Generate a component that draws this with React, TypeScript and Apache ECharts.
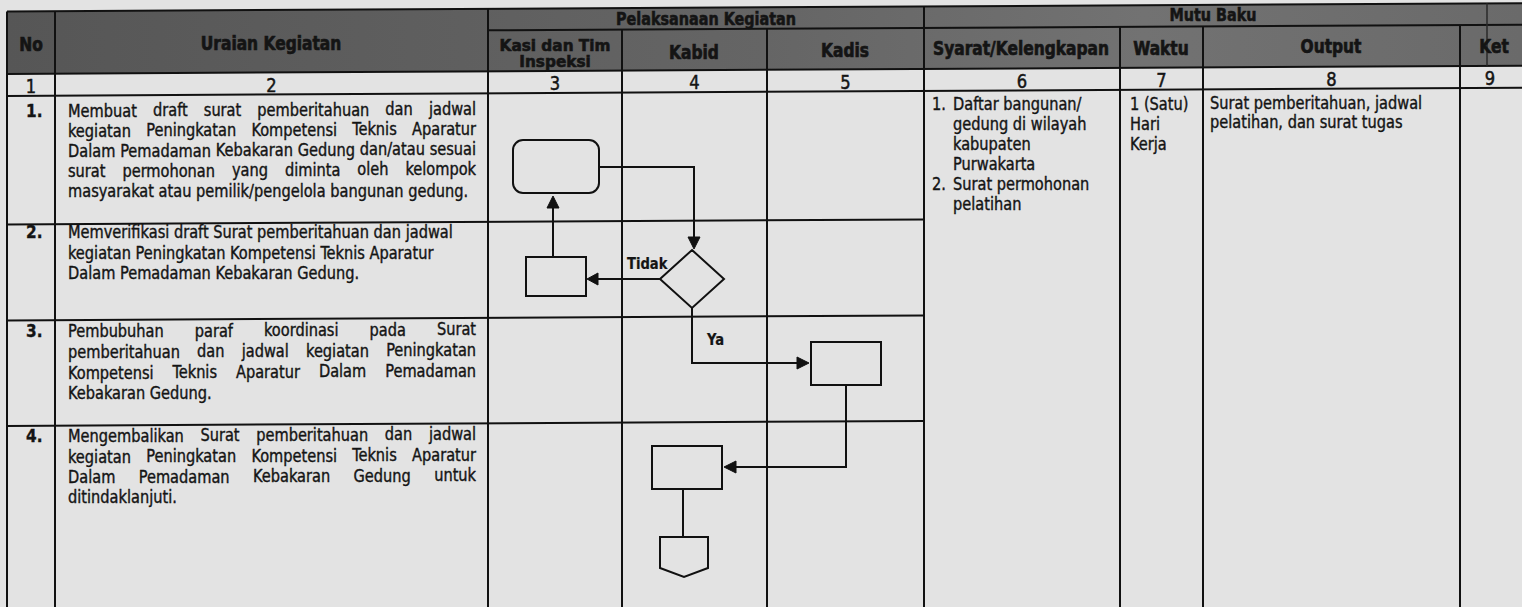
import React, { useEffect, useRef } from 'react';
import * as echarts from 'echarts';

// ---------------- data (content) ----------------
const groupHeaders = ['Pelaksanaan Kegiatan', 'Mutu Baku'];
const columnHeaders = [
  ['No'],
  ['Uraian Kegiatan'],
  ['Kasi dan Tim', 'Inspeksi'],
  ['Kabid'],
  ['Kadis'],
  ['Syarat/Kelengkapan'],
  ['Waktu'],
  ['Output'],
  ['Ket'],
];
const columnNumbers = ['1', '2', '3', '4', '5', '6', '7', '8', '9'];
const rowNumbers = ['1.', '2.', '3.', '4.'];
const activityLines = [
  [
    'Membuat draft surat pemberitahuan dan jadwal',
    'kegiatan Peningkatan Kompetensi Teknis Aparatur',
    'Dalam Pemadaman Kebakaran Gedung dan/atau sesuai',
    'surat permohonan yang diminta oleh kelompok',
    'masyarakat atau pemilik/pengelola bangunan gedung.',
  ],
  [
    'Memverifikasi draft Surat pemberitahuan dan jadwal',
    'kegiatan Peningkatan Kompetensi Teknis Aparatur',
    'Dalam Pemadaman Kebakaran Gedung.',
  ],
  [
    'Pembubuhan paraf koordinasi pada Surat',
    'pemberitahuan dan jadwal kegiatan Peningkatan',
    'Kompetensi Teknis Aparatur Dalam Pemadaman',
    'Kebakaran Gedung.',
  ],
  [
    'Mengembalikan Surat pemberitahuan dan jadwal',
    'kegiatan Peningkatan Kompetensi Teknis Aparatur',
    'Dalam Pemadaman Kebakaran Gedung untuk',
    'ditindaklanjuti.',
  ],
];
const activityJustified = [true, false, true, true];
const syaratNumbers = ['1.', '2.'];
const syaratLines = [
  ['Daftar bangunan/', 'gedung di wilayah', 'kabupaten', 'Purwakarta'],
  ['Surat permohonan', 'pelatihan'],
];
const waktuLines = ['1 (Satu)', 'Hari', 'Kerja'];
const outputLines = ['Surat pemberitahuan, jadwal', 'pelatihan, dan surat tugas'];
const flowLabels = ['Tidak', 'Ya'];

// ---------------- layout ----------------
const W = 1522;
const H = 607;
const SLOPE = 0.0055; // scan tilt: right side sits higher
const BG = '#e3e3e3';
const INK = '#141414';
const LINE = '#111111';
const FONT = '"DejaVu Sans Condensed", "DejaVu Sans", sans-serif';
const BODY_SCALE_Y = 1.08;
const HEAD_SCALE_Y = 1.08;

const COL_X = [7, 55, 488, 622, 767, 924, 1120, 1203, 1460, 1522];
const Y_TOP = 11.5;
const Y_SUB = 33;
const Y_HEAD = 74;
const Y_NUM = 96;
const ROW_Y = [96, 224.5, 320.5, 426, 630];

const HEAD_CX = [31, 271, 555, 694, 845, 1021, 1161, 1331, 1494];
const HEAD_CY = [44, 43.5, 54, 52, 50, 48.5, 48, 46.5, 46.5];
const HEAD_LINE_GAP = 16;
const GROUP_CX = [706, 1213];
const GROUP_CY = [19, 15.5];
const NUM_CY_BASE = 86.5;

const TEXT_X0 = 68;
const TEXT_X1 = 476;
const ROW_NUM_X = 26;
const ROW_BASELINES = [
  [116.7, 136.7, 156.7, 176.7, 196.7],
  [238.3, 258.5, 278.7],
  [337.3, 358, 378.7, 399.3],
  [441.7, 462.7, 483.3, 503.3],
];
const SY_NUM_X = 932;
const SY_TEXT_X = 953;
const SY_BASELINES = [110, 130, 150, 170, 190, 210];
const WK_X = 1130;
const WK_BASELINES = [110, 130, 150];
const OUT_X = 1210;
const OUT_BASELINES = [108.5, 127.5];

function measure(text: string, font: string): number {
  const c = document.createElement('canvas');
  const ctx = c.getContext('2d')!;
  ctx.font = font;
  return ctx.measureText(text).width;
}

function buildOption() {
  const bodySize = (15 * 385) / measure('Memverifikasi draft Surat pemberitahuan dan jadwal', `15px ${FONT}`);
  const headSize = (15 * 176) / measure('Syarat/Kelengkapan', `bold 15px ${FONT}`);
  const mid = (baseline: number, size: number) => baseline - 0.35 * size * BODY_SCALE_Y;

  const els: any[] = [];
  const line = (x1: number, y1: number, x2: number, y2: number, w = 2, c = LINE) =>
    els.push({ type: 'line', silent: true, shape: { x1, y1, x2, y2 }, style: { stroke: c, lineWidth: w } });
  const hLine = (xa: number, xb: number, y: number, w = 2, c = LINE) =>
    line(xa, y - SLOPE * xa, xb, y - SLOPE * xb, w, c);
  const vLine = (x: number, ya: number, yb: number, w = 2, c = LINE) =>
    line(x, ya - SLOPE * x, x, yb - SLOPE * x, w, c);
  const text = (
    t: string,
    x: number,
    y: number,
    size: number,
    bold = false,
    align = 'left',
    sy = BODY_SCALE_Y,
    strokeW = 0.35
  ) =>
    els.push({
      type: 'text',
      silent: true,
      x,
      y,
      scaleY: sy,
      style: {
        text: t,
        fill: INK,
        stroke: INK,
        lineWidth: strokeW,
        fontSize: size,
        fontFamily: FONT,
        fontWeight: bold ? 'bold' : 'normal',
        align,
        verticalAlign: 'middle',
        textAlign: align,
        textVerticalAlign: 'middle',
      },
    });

  // header background
  const P = (x: number, y: number) => [x, y - SLOPE * x];
  els.push({
    type: 'polygon',
    silent: true,
    shape: { points: [P(COL_X[0], Y_TOP), P(W, Y_TOP), P(W, Y_HEAD), P(COL_X[0], Y_HEAD)] },
    style: {
      fill: new echarts.graphic.LinearGradient(0, 0, 1, 0, [
        { offset: 0, color: '#565656' },
        { offset: 0.5, color: '#656565' },
        { offset: 0.75, color: '#727272' },
        { offset: 1, color: '#6a6a6a' },
      ]),
    },
  });

  // horizontal grid lines
  hLine(COL_X[0], W, Y_TOP);
  hLine(COL_X[2], W, Y_SUB);
  hLine(COL_X[0], W, Y_HEAD);
  hLine(COL_X[0], W, Y_NUM);
  for (let i = 1; i < ROW_Y.length - 1; i++) hLine(COL_X[0], COL_X[5], ROW_Y[i]);

  // vertical grid lines
  const bottom = ROW_Y[ROW_Y.length - 1];
  [0, 1, 2, 5].forEach((i) => vLine(COL_X[i], Y_TOP, bottom));
  [3, 4, 6, 7, 8].forEach((i) => vLine(COL_X[i], Y_SUB, bottom));
  vLine(1487, Y_TOP, Y_HEAD, 1.5, '#2a2a2a');

  // headers
  groupHeaders.forEach((g, i) =>
    text(g, GROUP_CX[i], GROUP_CY[i], headSize * 0.93, true, 'center', HEAD_SCALE_Y, 0.5)
  );
  columnHeaders.forEach((lines, i) => {
    const n = lines.length;
    const size = n > 1 ? headSize * 0.99 : headSize;
    const sy = n > 1 ? 0.94 : HEAD_SCALE_Y;
    lines.forEach((l, k) =>
      text(l, HEAD_CX[i], HEAD_CY[i] + (k - (n - 1) / 2) * HEAD_LINE_GAP, size, true, 'center', sy, 0.6)
    );
  });

  // column numbers
  columnNumbers.forEach((t, i) => {
    const cx = (COL_X[i] + COL_X[i + 1]) / 2 + (i === 8 ? -1 : 0);
    text(t, cx, NUM_CY_BASE - SLOPE * cx, bodySize * 1.12, false, 'center', 1.05, 0.45);
  });

  // rows: number + activity description
  const bodyFont = `${bodySize}px ${FONT}`;
  activityLines.forEach((lines, r) => {
    text(rowNumbers[r], ROW_NUM_X, mid(ROW_BASELINES[r][0], bodySize), bodySize * 1.05, true);
    lines.forEach((l, k) => {
      const by = ROW_BASELINES[r][k];
      const last = k === lines.length - 1;
      if (!activityJustified[r] || last) {
        text(l, TEXT_X0, mid(by, bodySize), bodySize);
        return;
      }
      const words = l.split(' ');
      const widths = words.map((w) => measure(w, bodyFont));
      const total = widths.reduce((a, b) => a + b, 0);
      const gap = (TEXT_X1 - TEXT_X0 - total) / (words.length - 1);
      let x = TEXT_X0;
      words.forEach((w, j) => {
        text(w, x, mid(by, bodySize) - SLOPE * (x - TEXT_X0), bodySize);
        x += widths[j] + gap;
      });
    });
  });

  // Syarat / Kelengkapan
  let li = 0;
  syaratLines.forEach((lines, i) => {
    text(syaratNumbers[i], SY_NUM_X, mid(SY_BASELINES[li], bodySize), bodySize);
    lines.forEach((l) => {
      text(l, SY_TEXT_X, mid(SY_BASELINES[li], bodySize), bodySize);
      li++;
    });
  });
  waktuLines.forEach((l, i) => text(l, WK_X, mid(WK_BASELINES[i], bodySize), bodySize));
  outputLines.forEach((l, i) => text(l, OUT_X, mid(OUT_BASELINES[i], bodySize), bodySize));

  // ---------------- flowchart ----------------
  const shapeStyle = { fill: 'none', stroke: LINE, lineWidth: 2 };
  const rect = (x: number, y: number, w: number, h: number, r = 0) =>
    els.push({ type: 'rect', silent: true, shape: { x, y, width: w, height: h, r }, style: shapeStyle });
  const poly = (pts: number[][]) =>
    els.push({ type: 'polyline', silent: true, shape: { points: pts }, style: { stroke: LINE, lineWidth: 2, fill: 'none' } });
  const head = (pts: number[][]) =>
    els.push({ type: 'polygon', silent: true, shape: { points: pts }, style: { fill: LINE, stroke: LINE, lineWidth: 1 } });

  rect(513, 140, 86, 53, 10); // start (rounded)
  poly([[599, 167], [694, 167], [694, 238]]);
  head([[688, 237], [700, 237], [694, 249]]);
  els.push({
    type: 'polygon',
    silent: true,
    shape: { points: [[692, 250], [724, 279], [692, 308], [660, 279]] },
    style: shapeStyle,
  });
  poly([[660, 279], [598, 279]]);
  head([[598, 273], [598, 285], [587, 279]]);
  rect(526, 257, 60, 39);
  poly([[553, 257], [553, 208]]);
  head([[547, 208], [559, 208], [553, 196]]);
  text(flowLabels[0], 627, 264, bodySize * 0.9, true, 'left', 1.05, 0.2);
  poly([[692, 308], [692, 363], [797, 363]]);
  head([[797, 357], [797, 369], [809, 363]]);
  text(flowLabels[1], 707, 340, bodySize * 0.9, true, 'left', 1.05, 0.2);
  rect(811, 342, 70, 43);
  poly([[846, 385], [846, 467], [736, 467]]);
  head([[736, 461], [736, 473], [724, 467]]);
  rect(652, 446, 70, 43);
  poly([[683, 489], [683, 537]]);
  els.push({
    type: 'polygon',
    silent: true,
    shape: { points: [[660, 537], [708, 537], [708, 568], [684, 577], [660, 568]] },
    style: shapeStyle,
  });

  return {
    animation: false,
    backgroundColor: BG,
    graphic: { elements: els },
  };
}

export default function App() {
  const ref = useRef<HTMLDivElement>(null);
  useEffect(() => {
    const chart = echarts.init(ref.current!, null, { renderer: 'svg' });
    chart.setOption(buildOption() as any);
    return () => chart.dispose();
  }, []);
  return <div ref={ref} style={{ position: 'absolute', left: 0, top: 0, width: W, height: H }} />;
}
